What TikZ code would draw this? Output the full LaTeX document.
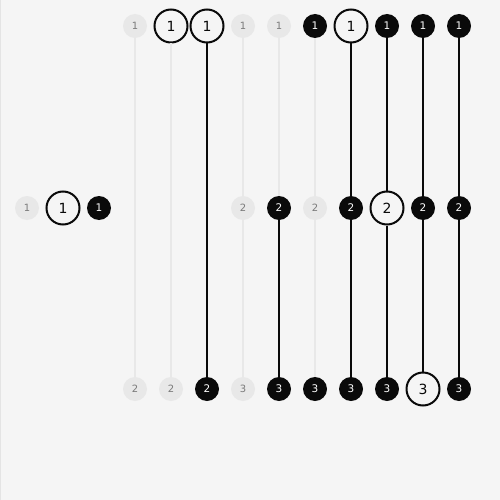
\documentclass[tikz,border=0pt]{standalone}
\usepackage{fontspec}
\setmainfont{DejaVu Sans}
\definecolor{PageGray}{HTML}{F5F5F5}
\definecolor{EdgeGray}{HTML}{E4E4E4}
\definecolor{OffGray}{HTML}{E8E8E8}
\definecolor{OffText}{HTML}{7A7A7A}
\definecolor{OnBlack}{HTML}{0A0A0A}
\usetikzlibrary{positioning}

\begin{document}
\begin{tikzpicture}[x=1pt, y=-1pt, node distance=36pt]
        \tikzstyle{offnode} = [circle, inner sep=0pt, minimum size=24pt, fill=OffGray, text=OffText, font=\fontsize{10}{10}\selectfont]
        \tikzstyle{onnode} = [circle, inner sep=0pt, minimum size=24pt, fill=OnBlack, text=white, font=\fontsize{10.5}{10.5}\selectfont]
        \tikzstyle{curnode} = [circle, inner sep=0pt, minimum size=33pt, draw=OnBlack, line width=2pt, fill=PageGray, text=OnBlack, font=\fontsize{14}{14}\selectfont]
        \tikzstyle{offline} = [OffGray, line width=2pt]
        \tikzstyle{online} = [OnBlack, line width=2pt]

        % Page
        \fill [PageGray] (0,0) rectangle (500,500);
        \useasboundingbox (0,0) rectangle (500,500);
        \draw [EdgeGray, line width=1pt] (0.5,0) -- (0.5,500);

        % Left group
        \node (l1) [offnode] at (27,208) {1};
        \node (l2) [curnode, right of=l1] {1};
        \node (l3) [onnode, right of=l2] {1};

        % Top row
        \node (t1) [offnode] at (135,26) {1};
        \node (t2) [curnode, right of=t1] {1};
        \node (t3) [curnode, right of=t2] {1};
        \node (t4) [offnode, right of=t3] {1};
        \node (t5) [offnode, right of=t4] {1};
        \node (t6) [onnode, right of=t5] {1};
        \node (t7) [curnode, right of=t6] {1};
        \node (t8) [onnode, right of=t7] {1};
        \node (t9) [onnode, right of=t8] {1};
        \node (t10) [onnode, right of=t9] {1};

        % Middle row
        \node (m4) [offnode] at (243,208) {2};
        \node (m5) [onnode, right of=m4] {2};
        \node (m6) [offnode, right of=m5] {2};
        \node (m7) [onnode, right of=m6] {2};
        \node (m8) [curnode, right of=m7] {2};
        \node (m9) [onnode, right of=m8] {2};
        \node (m10) [onnode, right of=m9] {2};

        % Bottom row
        \node (b1) [offnode] at (135,389) {2};
        \node (b2) [offnode, right of=b1] {2};
        \node (b3) [onnode, right of=b2] {2};
        \node (b4) [offnode, right of=b3] {3};
        \node (b5) [onnode, right of=b4] {3};
        \node (b6) [onnode, right of=b5] {3};
        \node (b7) [onnode, right of=b6] {3};
        \node (b8) [onnode, right of=b7] {3};
        \node (b9) [curnode, right of=b8] {3};
        \node (b10) [onnode, right of=b9] {3};

        % Links
        \draw [offline] (t1) -- (b1);
        \draw [offline] (t2) -- (b2);
        \draw [online] (t3) -- (b3);
        \draw [offline] (t4) -- (m4);
        \draw [offline] (m4) -- (b4);
        \draw [offline] (t5) -- (m5);
        \draw [online] (m5) -- (b5);
        \draw [offline] (t6) -- (m6);
        \draw [offline] (m6) -- (b6);
        \draw [online] (t7) -- (m7);
        \draw [online] (m7) -- (b7);
        \draw [online] (t8) -- (m8);
        \draw [online] (m8) -- (b8);
        \draw [online] (t9) -- (m9);
        \draw [online] (m9) -- (b9);
        \draw [online] (t10) -- (m10);
        \draw [online] (m10) -- (b10);
    \end{tikzpicture}
\end{document}
